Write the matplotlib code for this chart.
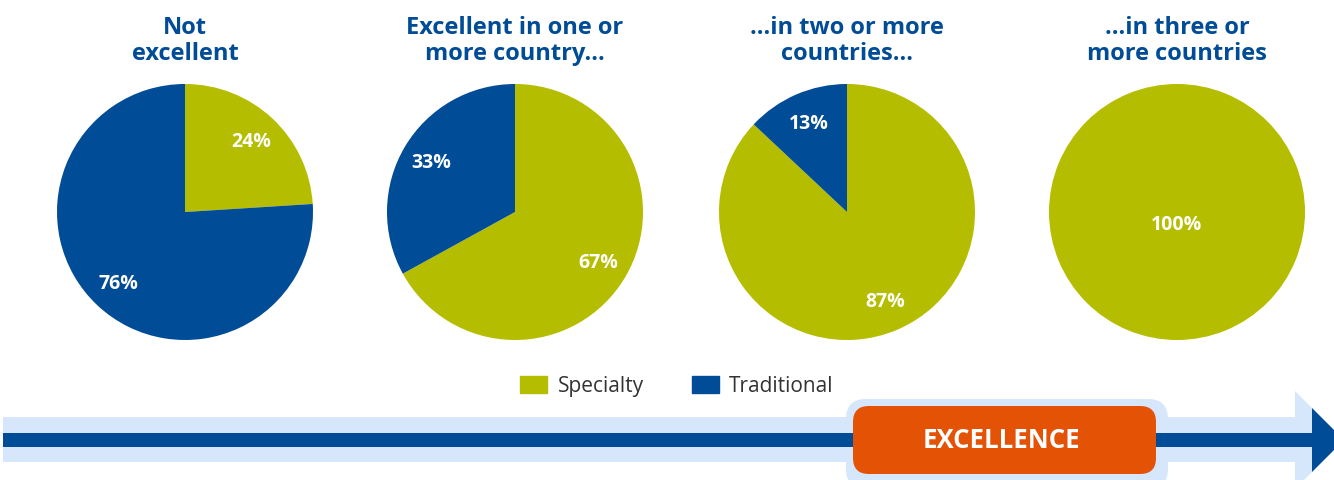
import matplotlib
matplotlib.use("Agg")
import matplotlib.pyplot as plt
from matplotlib.patches import Rectangle, Polygon, FancyBboxPatch, Patch

# ---- data ----
titles = ["Not\nexcellent", "Excellent in one or\nmore country...",
          "...in two or more\ncountries...", "...in three or\nmore countries"]
categories = ["Specialty", "Traditional"]
specialty = [24, 67, 87, 100]
traditional = [76, 33, 13, 0]
banner_text = "EXCELLENCE"

GREEN = "#b5bd00"
BLUE = "#004c97"
ORANGE = "#e35205"
LIGHT = "#d6e6fb"

W, H = 1334, 481
fig = plt.figure(figsize=(W / 100, H / 100), dpi=100)
plt.rcParams['font.family'] = ['Open Sans', 'DejaVu Sans']

# background axes in pixel coordinates
bg = fig.add_axes([0, 0, 1, 1])
bg.set_xlim(0, W)
bg.set_ylim(H, 0)
bg.axis("off")

# arrow band
bg.add_patch(Rectangle((3, 418), 1292, 45, color=LIGHT, lw=0, zorder=1))
bg.add_patch(Polygon([(1295, 392), (1344, 441), (1295, 490)], closed=True,
                     color=LIGHT, lw=0, zorder=1))
bg.add_patch(FancyBboxPatch((846, 400), 322, 90,
                            boxstyle="round,pad=0,rounding_size=20",
                            fc=LIGHT, ec="none", zorder=1))
bg.add_patch(Rectangle((3, 434), 1310, 14, color=BLUE, lw=0, zorder=2))
bg.add_patch(Polygon([(1312, 409), (1344, 441), (1312, 473)], closed=True,
                     color=BLUE, lw=0, zorder=2))
bg.add_patch(FancyBboxPatch((853, 407), 303, 68,
                            boxstyle="round,pad=0,rounding_size=16",
                            fc=ORANGE, ec="none", zorder=3))
bg.text(1001, 441, banner_text, color="white", fontsize=18.5, fontweight="bold",
        ha="center", va="center", zorder=4)

# pies
centers = [185, 515, 847, 1177]
cy, r = 213, 128
for i, cx in enumerate(centers):
    ax = fig.add_axes([(cx - r) / W, (H - cy - r) / H, 2 * r / W, 2 * r / H])
    vals = [specialty[i], traditional[i]]
    cols = [GREEN, BLUE]
    v = [x for x in vals if x > 0]
    c = [cols[k] for k, x in enumerate(vals) if x > 0]
    pd = 0.76 if len(v) > 1 else 0.09
    wedges, texts, autotexts = ax.pie(
        v, colors=c, startangle=90, counterclock=False, radius=1,
        autopct=lambda p: f"{p:.0f}%", pctdistance=pd,
        wedgeprops=dict(linewidth=0),
        textprops=dict(color="white", fontsize=14, fontweight="bold"))
    ax.set_xlim(-1, 1)
    ax.set_ylim(-1, 1)
    ax.set_aspect("equal")
    fig.text(cx / W, 1 - 41 / H, titles[i], ha="center", va="center",
             color=BLUE, fontsize=17, fontweight="bold", linespacing=1.16)

handles = [Patch(color=GREEN, label=categories[0]),
           Patch(color=BLUE, label=categories[1])]
fig.legend(handles=handles, loc="center", bbox_to_anchor=(677 / W, 1 - 387 / H),
           ncol=2, frameon=False, fontsize=15, handlelength=1.3,
           handleheight=0.85, handletextpad=0.5, columnspacing=2.3,
           labelcolor="#333333")

fig.savefig("out.png", dpi=100)
